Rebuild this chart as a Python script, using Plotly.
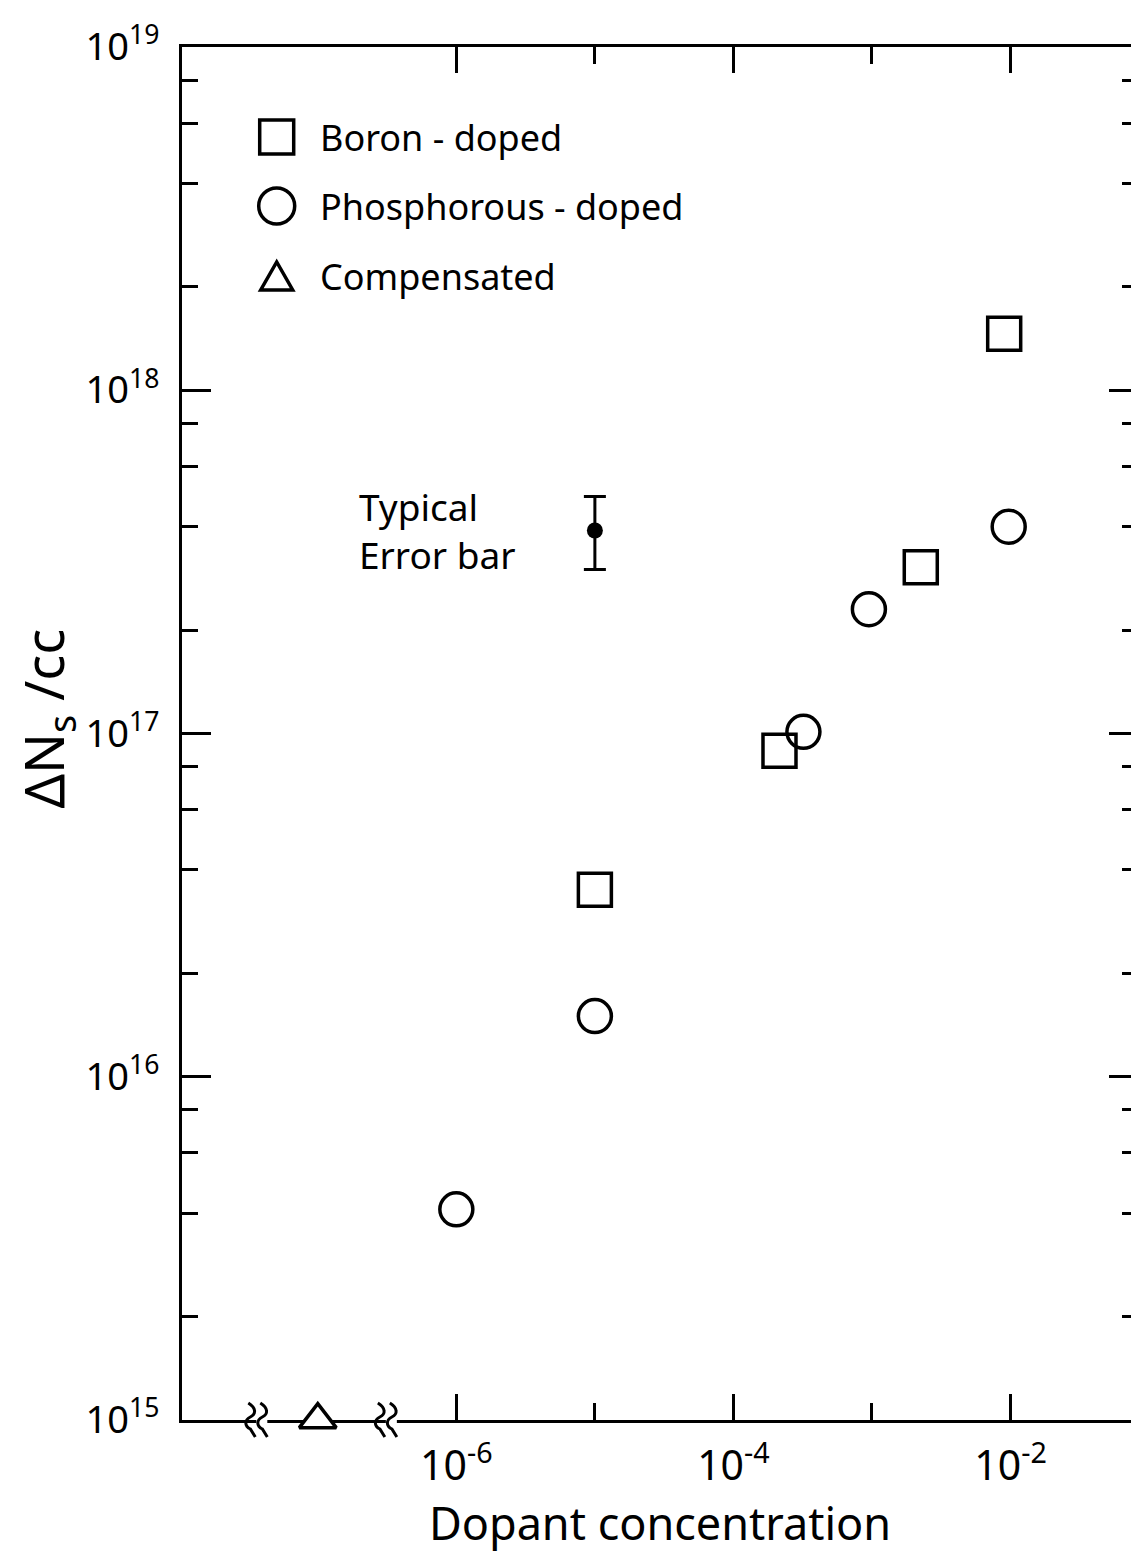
import plotly.graph_objects as go

# ---------------- data ----------------
boron_x = [1.0e-5, 2.15e-4, 2.25e-3, 9.0e-3]
boron_y = [3.5e16, 8.9e16, 3.05e17, 1.46e18]

phos_x = [1.0e-6, 1.0e-5, 3.2e-4, 9.5e-4, 9.7e-3]
phos_y = [4.1e15, 1.5e16, 1.01e17, 2.3e17, 4.0e17]

comp_x = [1.0e-7]
comp_y = [1.0e15]

err_x = [1.0e-5]
err_y = [3.9e17]
err_plus = [1.0e17]
err_minus = [0.9e17]

x_major = [1e-6, 1e-4, 1e-2]
x_major_text = ["10<sup>-6</sup>", "10<sup>-4</sup>", "10<sup>-2</sup>"]
x_minor = [1e-5, 1e-3]

y_major = [1e15, 1e16, 1e17, 1e18, 1e19]
y_major_text = ["10<sup>15</sup>", "10<sup>16</sup>", "10<sup>17</sup>",
                "10<sup>18</sup>", "10<sup>19</sup>"]
y_minor = [m * 10 ** e for e in range(15, 19) for m in (2, 4, 6, 8)]

legend_labels = ["Boron - doped", "Phosphorous - doped", "Compensated"]
break_x = [3.6e-8, 3.1e-7]

FONT = "Noto Sans"
INK = "black"

fig = go.Figure()

fig.add_trace(go.Scatter(
    x=boron_x, y=boron_y, mode="markers", name=legend_labels[0],
    marker=dict(symbol="square-open", size=33, color=INK, line=dict(width=3.5, color=INK)),
    cliponaxis=False))
fig.add_trace(go.Scatter(
    x=phos_x, y=phos_y, mode="markers", name=legend_labels[1],
    marker=dict(symbol="circle-open", size=33, color=INK, line=dict(width=3.5, color=INK)),
    cliponaxis=False))
fig.add_trace(go.Scatter(
    x=comp_x, y=comp_y, mode="markers", name=legend_labels[2],
    marker=dict(symbol="triangle-up", size=32, color="white", line=dict(width=3.5, color=INK)),
    cliponaxis=False))
fig.add_trace(go.Scatter(
    x=err_x, y=err_y, mode="markers", name="Typical error bar",
    marker=dict(symbol="circle", size=16, color=INK),
    error_y=dict(type="data", array=err_plus, arrayminus=err_minus,
                 color=INK, thickness=3, width=11, symmetric=False)))

# ---------------- axes ----------------
fig.update_xaxes(
    type="log", range=[-7.98, -1.08],
    showgrid=False, zeroline=False, layer="below traces",
    showline=True, linecolor=INK, linewidth=3, mirror="ticks",
    ticks="inside", ticklen=26, tickwidth=3, tickcolor=INK,
    tickmode="array", tickvals=x_major, ticktext=x_major_text,
    tickfont=dict(family=FONT, size=41, color=INK), ticklabelstandoff=8,
    minor=dict(tickmode="array", tickvals=x_minor, ticks="inside",
               ticklen=17, tickwidth=3, tickcolor=INK, showgrid=False),
    title=dict(text="Dopant concentration", font=dict(family=FONT, size=45, color=INK),
               standoff=10),
)
fig.update_yaxes(
    type="log", range=[14.999, 19],
    showgrid=False, zeroline=False, layer="below traces",
    showline=True, linecolor=INK, linewidth=3, mirror="ticks",
    ticks="inside", ticklen=29, tickwidth=3, tickcolor=INK,
    tickmode="array", tickvals=y_major, ticktext=y_major_text,
    tickfont=dict(family=FONT, size=38, color=INK), ticklabelstandoff=12,
    minor=dict(tickmode="array", tickvals=y_minor, ticks="inside",
               ticklen=16, tickwidth=3, tickcolor=INK, showgrid=False),
)

shapes = []
# axis breaks on the bottom axis
for bx in break_x:
    shapes.append(dict(type="rect", xref="x", yref="paper", xsizemode="pixel", ysizemode="pixel",
                       xanchor=bx, yanchor=0, x0=-11, x1=11, y0=-4, y1=4,
                       fillcolor="white", line=dict(width=0), layer="above"))
    for dx in (-6, 6):
        shapes.append(dict(type="path", xref="x", yref="paper", xsizemode="pixel", ysizemode="pixel",
                           xanchor=bx, yanchor=0,
                           path=(f"M {dx-2},17 C {dx+6},12 {dx+6},6 {dx},3 "
                                 f"C {dx-6},0 {dx-6},-6 {dx},-9 L {dx+5},-17"),
                           line=dict(color=INK, width=3), layer="above"))

# legend keys (drawn as symbols inside the plot)
OFF = 6  # page offset of the figure inside the browser window
PX0, PW, PY0, PH = 180, 959, 45, 1373
def px(xp):
    return (xp - PX0) / PW
def py(yp):
    return 1 - (yp - PY0) / PH

key_x = px(275)
rows_y = [py(135), py(204), py(275)]
shapes.append(dict(type="rect", xref="paper", yref="paper", xsizemode="pixel", ysizemode="pixel",
                   xanchor=key_x, yanchor=rows_y[0], x0=-17, x1=17, y0=-17, y1=17,
                   line=dict(color=INK, width=3.5), fillcolor="rgba(0,0,0,0)"))
shapes.append(dict(type="circle", xref="paper", yref="paper", xsizemode="pixel", ysizemode="pixel",
                   xanchor=key_x, yanchor=rows_y[1], x0=-18, x1=18, y0=-18, y1=18,
                   line=dict(color=INK, width=3.5), fillcolor="rgba(0,0,0,0)"))
shapes.append(dict(type="path", xref="paper", yref="paper", xsizemode="pixel", ysizemode="pixel",
                   xanchor=key_x, yanchor=rows_y[2],
                   path="M -16,-13 L 16,-13 L 0,15 Z",
                   line=dict(color=INK, width=3.5), fillcolor="rgba(0,0,0,0)"))

annotations = []
for lab, yy in zip(legend_labels, rows_y):
    annotations.append(dict(text=lab, xref="paper", yref="paper", x=px(316), y=yy,
                            xanchor="left", yanchor="middle", showarrow=False,
                            font=dict(family=FONT, size=36, color=INK)))
annotations.append(dict(text="Typical<br>Error bar", xref="paper", yref="paper",
                        x=px(356), y=py(528), xanchor="left", yanchor="middle", align="left",
                        showarrow=False, font=dict(family=FONT, size=37, color=INK)))
annotations.append(dict(text="ΔN<sub>s</sub> /cc", xref="paper", yref="paper",
                        x=px(44), y=py(716), xanchor="center", yanchor="middle",
                        textangle=-90, showarrow=False,
                        font=dict(family=FONT, size=54, color=INK)))

fig.update_layout(
    width=1139 - OFF, height=1556 - OFF,
    margin=dict(l=180 - OFF, r=0, t=45 - OFF, b=138),
    paper_bgcolor="white", plot_bgcolor="white",
    showlegend=False,
    shapes=shapes, annotations=annotations,
)

fig.write_html("out.html")
